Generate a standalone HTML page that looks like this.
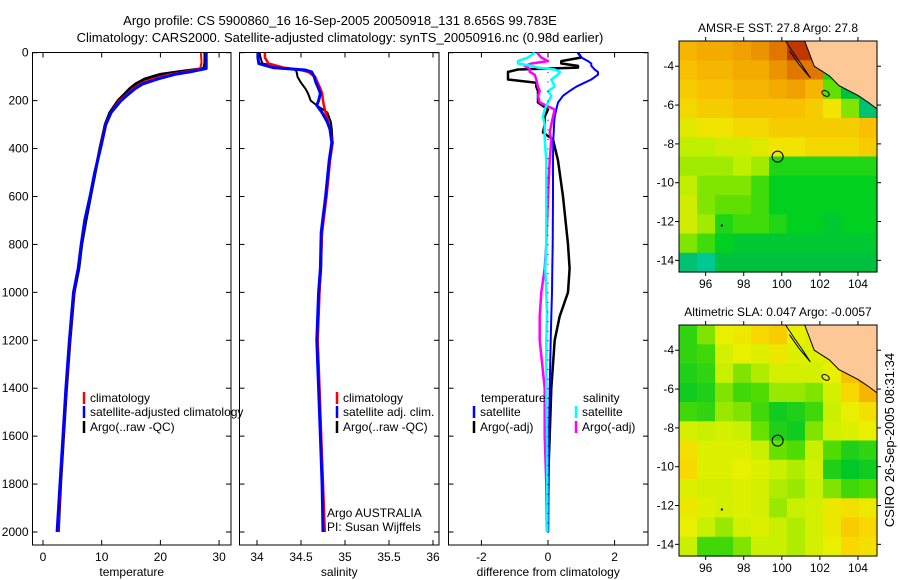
<!DOCTYPE html>
<html><head><meta charset="utf-8"><style>
body{margin:0;background:#fff;}
svg{display:block;font-family:"Liberation Sans",sans-serif;font-size:12px;}
</style></head><body>
<svg id="fig" width="900" height="580" xmlns="http://www.w3.org/2000/svg">
<text x="340" y="25" text-anchor="middle" font-size="13">Argo profile: CS 5900860_16 16-Sep-2005 20050918_131 8.656S 99.783E</text>
<text x="340" y="42" text-anchor="middle" font-size="13">Climatology: CARS2000. Satellite-adjusted climatology: synTS_20050916.nc (0.98d earlier)</text>
<text x="894" y="440" text-anchor="middle" font-size="13" transform="rotate(-90 894 440)">CSIRO 26-Sep-2005 08:31:34</text>
</svg>
<script>
// ---- data ----
const tDepth=[0,40,66,80,90,110,130,150,170,200,250,300,400,500,600,700,800,900,1000,1200,1400,1600,1800,2000];
const tClim=[26.9,27.0,26.8,24.0,21.5,18.5,16.5,15.3,14.4,13.0,11.5,10.6,9.7,8.8,8.0,7.1,6.5,6.0,5.3,4.6,4.0,3.5,3.0,2.6];
const tArgo=[27.6,27.6,27.4,23.0,20.0,17.3,15.8,14.8,14.0,12.8,11.4,10.6,9.7,8.9,8.1,7.3,6.6,6.1,5.3,4.6,4.0,3.5,3.0,2.6];
const tSat=[27.8,27.8,27.8,25.0,22.5,19.5,17.0,15.7,14.7,13.3,11.6,10.7,9.8,8.8,8.0,7.1,6.5,6.0,5.2,4.5,3.9,3.4,2.9,2.4];
const sDepth=[0,20,45,62,72,80,100,125,150,170,200,220,250,290,320,375,450,525,600,750,900,1000,1100,1200,1300,1400,1600,1800,2000];
const sSat=[34.01,34.01,34.02,34.18,34.55,34.62,34.65,34.67,34.70,34.72,34.70,34.68,34.74,34.80,34.83,34.85,34.82,34.80,34.78,34.73,34.72,34.70,34.69,34.68,34.69,34.70,34.72,34.74,34.75];
const sClim=[34.09,34.09,34.13,34.30,34.50,34.58,34.66,34.69,34.72,34.74,34.75,34.76,34.78,34.81,34.83,34.86,34.83,34.81,34.79,34.74,34.72,34.71,34.70,34.69,34.70,34.71,34.73,34.75,34.77];
const sArgo=[34.03,34.04,34.06,34.30,34.44,34.45,34.46,34.50,34.55,34.58,34.61,34.68,34.80,34.84,34.85,34.86,34.83,34.80,34.78,34.74,34.73,34.71,34.70,34.69,34.70,34.71,34.73,34.75,34.76];
const dDepth=[0,20,35,45,55,62,70,80,92,112,125,142,160,180,208,237,267,300,333,362,450,600,800,900,1000,1100,1200,1400,1600,1800,2000];
const dTempSat=[0.9,1.0,1.2,1.3,1.3,1.35,1.4,1.5,1.5,1.3,1.1,0.85,0.65,0.45,0.3,0.25,0.2,0.18,0.17,0.16,0.15,0.15,0.14,0.13,0.12,0.1,0.08,0.05,0.03,0.02,0.0];
const dTempArgo=[0.9,1.0,0.4,0.4,0.9,0.9,-0.9,-1.2,-1.2,-1.2,-0.35,-0.35,-0.3,-0.3,-0.3,0.0,-0.1,-0.1,-0.15,0.15,0.3,0.45,0.6,0.65,0.6,0.35,0.2,0.1,0.05,0.0,0.0];
const dSalSat=[-0.4,-0.6,-0.9,-0.9,-0.5,-0.3,0.2,0.36,0.3,0.1,0.15,0.2,0.0,0.1,0.0,-0.1,-0.15,-0.1,-0.1,-0.1,-0.05,-0.05,-0.05,-0.08,-0.05,-0.03,-0.05,-0.05,-0.03,-0.02,-0.02];
const dSalArgo=[-0.33,-0.2,0.0,-0.5,-0.7,-0.6,-0.55,-0.55,-0.4,-0.35,-0.33,-0.3,-0.25,-0.3,-0.25,0.2,0.15,0.1,0.05,0.1,0.05,0.0,-0.05,-0.1,-0.2,-0.25,-0.25,-0.1,-0.1,-0.05,-0.03];
const depthTicks=[0,200,400,600,800,1000,1200,1400,1600,1800,2000];
const tempTicks=[0,10,20,30];
const salTicks=[34,34.5,35,35.5,36];
const diffTicks=[-2,0,2];
const lonTicks=[96,98,100,102,104];
const latTicks=[-4,-6,-8,-10,-12,-14];
const sstGrid=[
[28.5,28.6,28.6,28.7,28.8,29.0,29.5,29.6,28.6,28.6,28.6],
[28.4,28.5,28.5,28.6,28.6,28.8,29.0,29.0,27.3,27.2,27.2],
[28.3,28.4,28.4,28.5,28.5,28.6,28.7,28.5,27.5,27.0,27.2],
[28.2,28.3,28.3,28.4,28.4,28.4,28.4,28.3,28.1,27.6,26.8],
[28.0,28.1,28.1,28.2,28.2,28.3,28.3,28.3,28.3,28.3,28.4],
[27.8,27.8,27.9,27.9,28.0,28.1,28.1,28.2,28.2,28.2,28.3],
[27.7,27.7,27.7,27.8,27.7,27.3,27.3,27.3,27.3,27.3,27.3],
[27.8,27.6,27.6,27.6,27.4,27.2,27.2,27.2,27.2,27.2,27.2],
[27.9,27.6,27.5,27.5,27.4,27.2,27.2,27.2,27.2,27.2,27.2],
[27.9,27.7,27.3,27.4,27.4,27.3,27.2,27.2,27.1,27.2,27.2],
[27.6,27.4,27.2,27.1,27.1,27.1,27.1,27.1,27.1,27.1,27.1],
[26.8,26.7,27.0,27.0,27.0,27.0,27.0,27.0,27.0,27.0,27.0]];
const slaGrid=[
[-0.7,-0.3,0.3,0.4,0.6,0.7,0.3,0.2,0.1,0.1,0.1],
[-0.7,-0.6,0.1,0.3,0.2,0.4,0.2,0.2,0.2,0.3,0.5],
[-0.8,-0.7,0.0,-0.3,-0.1,0.1,0.1,0.1,0.3,0.8,1.0],
[-0.9,-0.8,-0.3,-0.6,-0.5,-0.2,-0.2,-0.3,0.1,0.6,0.9],
[-0.6,-0.7,-0.2,-0.3,-0.6,-0.9,-0.8,-0.6,0.0,0.3,0.5],
[0.1,0.0,0.1,0.0,-0.4,-0.8,-0.9,-0.3,0.1,0.2,0.3],
[0.5,0.2,0.2,0.2,0.0,-0.4,-0.5,0.0,-0.5,-0.8,-0.7],
[0.6,0.2,0.2,0.3,0.2,0.0,-0.1,0.1,-0.8,-1.0,-0.9],
[0.2,0.1,0.1,0.2,0.1,-0.1,-0.2,0.0,-0.3,-0.6,-0.5],
[0.4,0.2,0.1,0.2,0.1,-0.2,0.0,0.1,0.4,0.5,0.4],
[0.3,0.0,-0.2,0.1,0.2,0.0,-0.1,0.1,0.4,0.7,0.6],
[0.0,-0.6,-0.6,-0.3,0.0,0.0,-0.1,0.1,0.3,0.6,0.5]];
const landLon=[101.2,101.7,102.5,103.0,104.0,104.6,105.0,105.0];
const landLat=[-2.7,-4.0,-4.5,-5.0,-5.5,-5.9,-6.2,-2.7];
const floatLon=99.78, floatLat=-8.656;

// ---- helpers ----
const NS="http://www.w3.org/2000/svg";
const svg=document.getElementById('fig');
function mk(tag,attrs,parent){const e=document.createElementNS(NS,tag);for(const k in attrs)e.setAttribute(k,attrs[k]);(parent||svg).appendChild(e);return e;}
const Y0=52.7, YS=(532-52.7)/2000;
const yD=d=>Y0+d*YS;

function panel(name,x0,x1,xfn,xticks,xlabel,showY){
  const g=mk('g',{});
  
  
  const r=mk('rect',{x:x0,y:52.5,width:x1-x0,height:492.5,fill:'none',stroke:'#000','stroke-width':1},g);
  
  
  depthTicks.forEach(d=>{
    const y=yD(d);
    mk('line',{x1:x0,x2:x0+5,y1:y,y2:y,stroke:'#000'},g);
    mk('line',{x1:x1-5,x2:x1,y1:y,y2:y,stroke:'#000'},g);
    if(showY){const t=mk('text',{x:x0-4,y:y+4,'text-anchor':'end'},g);t.textContent=d;
      
      }
  });
  xticks.forEach(v=>{
    const x=xfn(v);
    mk('line',{x1:x,x2:x,y1:545,y2:540,stroke:'#000'},g);
    mk('line',{x1:x,x2:x,y1:52.5,y2:57.5,stroke:'#000'},g);
    const t=mk('text',{x:x,y:561,'text-anchor':'middle'},g);t.textContent=v;
    
    
  });
  const xl=mk('text',{x:(x0+x1)/2,y:576,'text-anchor':'middle'},g);xl.textContent=xlabel;
  
  
  return g;
}
function line(g,depths,vals,xfn,color,w,name){
  const pts=depths.map((d,i)=>xfn(vals[i]).toFixed(1)+','+yD(d).toFixed(1)).join(' ');
  const p=mk('polyline',{points:pts,fill:'none',stroke:color,'stroke-width':w,'stroke-linejoin':'round'},g);
  
  
}
function legend(g,x,y,color,label){
  mk('line',{x1:x,x2:x,y1:y-10,y2:y+2,stroke:color,'stroke-width':2.5},g);
  const t=mk('text',{x:x+6,y:y},g);t.textContent=label;
  
  
}

// Panel 1 temperature
const xT=v=>43+v*5.87;
const g1=panel('temperature-panel',32.5,231,xT,tempTicks,'temperature',true);
line(g1,tDepth,tArgo,xT,'#000',3,'argo-temperature-line');
line(g1,tDepth,tClim,xT,'#f00',2,'climatology-temperature-line');
line(g1,tDepth,tSat,xT,'#00f',3,'satellite-temperature-line');
legend(g1,84,402,'#f00','climatology');
legend(g1,84,416,'#00f','satellite-adjusted climatology');
legend(g1,84,431,'#000','Argo(..raw -QC)');

// Panel 2 salinity
const xS=v=>257+(v-34)*88;
const g2=panel('salinity-panel',239.5,439,xS,salTicks,'salinity',false);
line(g2,sDepth,sArgo,xS,'#000',2,'argo-salinity-line');
line(g2,sDepth,sClim,xS,'#f00',2.5,'climatology-salinity-line');
line(g2,sDepth,sSat,xS,'#00f',3,'satellite-salinity-line');
legend(g2,337,402,'#f00','climatology');
legend(g2,337,416,'#00f','satellite adj. clim.');
legend(g2,337,431,'#000','Argo(..raw -QC)');
const a1=mk('text',{x:327,y:517},g2);a1.textContent='Argo AUSTRALIA';


const a2=mk('text',{x:327,y:531},g2);a2.textContent='PI: Susan Wijffels';



// Panel 3 differences
const xDf=v=>548+v*33.3;
const g3=panel('difference-panel',448.5,648,xDf,diffTicks,'difference from climatology',false);
line(g3,dDepth,dTempArgo,xDf,'#000',2.5,'argo-temperature-difference-line');
line(g3,dDepth,dTempSat,xDf,'#00f',2,'satellite-temperature-difference-line');
line(g3,dDepth,dSalArgo,xDf,'#f0f',2.5,'argo-salinity-difference-line');
line(g3,dDepth,dSalSat,xDf,'#0ff',2.5,'satellite-salinity-difference-line');
for(let d=80;d<=2000;d+=40){mk('line',{x1:548,x2:548,y1:yD(d),y2:yD(d)+1,stroke:'#000'},g3);}
const lt=mk('text',{x:481,y:402},g3);lt.textContent='temperature';


const ls=mk('text',{x:583,y:402},g3);ls.textContent='salinity';


legend(g3,474,416,'#00f','satellite');
legend(g3,474,431,'#000','Argo(-adj)');
legend(g3,576,416,'#0ff','satellite');
legend(g3,576,431,'#f0f','Argo(-adj)');

// ---- maps ----
function interp(stops,v){
  if(v<=stops[0][0])return stops[0][1];
  for(let i=1;i<stops.length;i++){if(v<=stops[i][0]){const a=stops[i-1],b=stops[i],f=(v-a[0])/(b[0]-a[0]);
    const c=a[1].map((x,k)=>Math.round(x+(b[1][k]-x)*f));return c;}}
  return stops[stops.length-1][1];
}
const sstStops=[[26.5,[0,216,216]],[26.9,[0,184,80]],[27.2,[0,208,32]],[27.5,[96,224,0]],[27.8,[192,240,0]],[28.1,[240,228,0]],[28.4,[248,192,0]],[28.7,[240,160,0]],[29.0,[224,120,0]],[29.5,[192,56,0]]];
const slaStops=[[-1,[0,200,40]],[-0.5,[80,220,0]],[0,[200,240,0]],[0.3,[232,240,0]],[0.6,[248,216,0]],[1,[248,168,0]]];
function map(name,top,grid,stops,title){
  const L=679,R=877,T=top,B=top+231;
  const lonMin=94.6,lonMax=105.0,latMax=-2.7,latMin=-14.6;
  const xL=lon=>L+(lon-lonMin)/(lonMax-lonMin)*(R-L);
  const yL=lat=>T+(latMax-lat)/(latMax-latMin)*(B-T);
  const g=mk('g',{});
  
  
  const nr=grid.length,nc=grid[0].length;
  const dLon=(lonMax-lonMin)/nc,dLat=(latMax-latMin)/nr;
  grid.forEach((row,i)=>row.forEach((v,j)=>{
    const c=interp(stops,v);
    const x=xL(lonMin+j*dLon),y=yL(latMax-i*dLat);
    const cell=mk('rect',{x:x.toFixed(1),y:y.toFixed(1),width:(xL(lonMin+(j+1)*dLon)-x+0.6).toFixed(1),height:(yL(latMax-(i+1)*dLat)-y+0.6).toFixed(1),fill:'rgb('+c.join(',')+')'},g);
    
    
  }));
  const land=mk('polygon',{points:landLon.map((lo,i)=>xL(lo).toFixed(1)+','+yL(landLat[i]).toFixed(1)).join(' '),fill:'#fcc896',stroke:'#000','stroke-width':1},g);
  
  
  const isl=mk('path',{d:`M${xL(100.2)},${yL(-2.7)} L${xL(100.6)},${yL(-3.3)} L${xL(101.1)},${yL(-4.0)} L${xL(101.5)},${yL(-4.6)} L${xL(100.9)},${yL(-3.9)} L${xL(100.4)},${yL(-3.2)}`,fill:'none',stroke:'#000','stroke-width':1},g);
  
  
  const isl2=mk('ellipse',{cx:xL(102.3),cy:yL(-5.4),rx:4,ry:2.5,fill:'none',stroke:'#000',transform:`rotate(30 ${xL(102.3)} ${yL(-5.4)})`},g);
  
  
  mk('rect',{x:xL(96.8),y:yL(-12.15),width:2,height:2,fill:'#000'},g);
  const c=mk('circle',{cx:xL(floatLon),cy:yL(floatLat),r:5.5,fill:'none',stroke:'#000','stroke-width':1},g);
  
  
  mk('rect',{x:L,y:T,width:R-L,height:B-T,fill:'none',stroke:'#000'},g);
  lonTicks.forEach(v=>{const x=xL(v);mk('line',{x1:x,x2:x,y1:B,y2:B+4,stroke:'#000'},g);mk('line',{x1:x,x2:x,y1:T-4,y2:T,stroke:'#000'},g);
    const t=mk('text',{x:x,y:B+16,'text-anchor':'middle'},g);t.textContent=v;
    
    });
  latTicks.forEach(v=>{const y=yL(v);mk('line',{x1:L-4,x2:L,y1:y,y2:y,stroke:'#000'},g);mk('line',{x1:R,x2:R+4,y1:y,y2:y,stroke:'#000'},g);
    const t=mk('text',{x:L-5,y:y+4,'text-anchor':'end'},g);t.textContent=v;
    
    });
  const tt=mk('text',{x:(L+R)/2,y:T-9,'text-anchor':'middle'},g);tt.textContent=title;
  
  
}
map('sst-map',41,sstGrid,sstStops,'AMSR-E SST: 27.8 Argo: 27.8');
map('sla-map',325,slaGrid,slaStops,'Altimetric SLA: 0.047 Argo: -0.0057');
</script>
</body></html>
